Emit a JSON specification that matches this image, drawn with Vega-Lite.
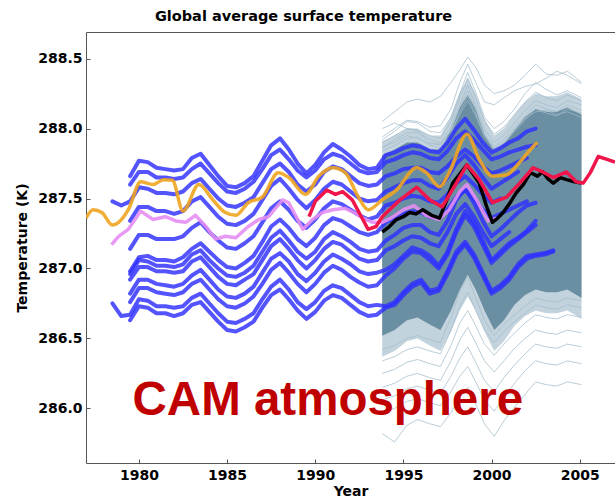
{
  "$schema": "https://vega.github.io/schema/vega-lite/v6.json",
  "width": 529,
  "height": 431,
  "autosize": "none",
  "padding": {"left": 86, "top": 32, "right": 0, "bottom": 36},
  "background": "white",
  "config": {"view": {"stroke": "#555", "strokeWidth": 1}},
  "title": {"text": "Global average surface temperature", "font": "DejaVu Sans", "fontSize": 14.5, "fontWeight": "bold", "color": "#000", "anchor": "middle", "dx": -47, "dy": 16, "baseline": "bottom", "offset": 10},
  "datasets": {
    "ensc": [
      {"x":1993.8,"hi":287.81,"lo":286.52,"hi2":287.91,"lo2":286.37},
      {"x":1994.5,"hi":287.85,"lo":286.56,"hi2":287.95,"lo2":286.41},
      {"x":1995.2,"hi":287.90,"lo":286.63,"hi2":288.00,"lo2":286.48},
      {"x":1995.8,"hi":287.90,"lo":286.65,"hi2":288.00,"lo2":286.50},
      {"x":1996.5,"hi":287.85,"lo":286.60,"hi2":287.95,"lo2":286.45},
      {"x":1997.1,"hi":287.85,"lo":286.56,"hi2":287.95,"lo2":286.41},
      {"x":1997.7,"hi":287.99,"lo":286.70,"hi2":288.09,"lo2":286.55},
      {"x":1998.2,"hi":288.15,"lo":286.85,"hi2":288.26,"lo2":286.70},
      {"x":1998.65,"hi":288.24,"lo":286.955,"hi2":288.36,"lo2":286.80},
      {"x":1999.1,"hi":288.14,"lo":286.85,"hi2":288.25,"lo2":286.70},
      {"x":1999.6,"hi":287.96,"lo":286.70,"hi2":288.07,"lo2":286.55},
      {"x":2000.15,"hi":287.84,"lo":286.56,"hi2":287.95,"lo2":286.41},
      {"x":2000.7,"hi":287.89,"lo":286.63,"hi2":288.00,"lo2":286.48},
      {"x":2001.3,"hi":287.99,"lo":286.74,"hi2":288.10,"lo2":286.59},
      {"x":2001.9,"hi":288.08,"lo":286.81,"hi2":288.19,"lo2":286.66},
      {"x":2002.5,"hi":288.14,"lo":286.85,"hi2":288.25,"lo2":286.70},
      {"x":2003.1,"hi":288.12,"lo":286.83,"hi2":288.23,"lo2":286.68},
      {"x":2003.7,"hi":288.12,"lo":286.83,"hi2":288.23,"lo2":286.68},
      {"x":2004.3,"hi":288.15,"lo":286.85,"hi2":288.26,"lo2":286.70},
      {"x":2005.1,"hi":288.10,"lo":286.79,"hi2":288.21,"lo2":286.64}
    ],
    "ens": [
      {"s":"u1","x":1993.8,"y":288.05},{"s":"u1","x":1994.5,"y":288.12},{"s":"u1","x":1995.2,"y":288.19},{"s":"u1","x":1995.8,"y":288.21},{"s":"u1","x":1996.5,"y":288.19},{"s":"u1","x":1997.1,"y":288.23},{"s":"u1","x":1997.7,"y":288.33},{"s":"u1","x":1998.2,"y":288.42},{"s":"u1","x":1998.65,"y":288.51},{"s":"u1","x":1999.1,"y":288.44},{"s":"u1","x":1999.6,"y":288.31},{"s":"u1","x":2000.15,"y":288.25},{"s":"u1","x":2000.7,"y":288.27},{"s":"u1","x":2001.3,"y":288.31},{"s":"u1","x":2001.9,"y":288.38},{"s":"u1","x":2002.5,"y":288.46},{"s":"u1","x":2003.1,"y":288.39},{"s":"u1","x":2003.7,"y":288.38},{"s":"u1","x":2004.3,"y":288.41},{"s":"u1","x":2005.1,"y":288.33},
      {"s":"u2","x":1993.8,"y":287.94},{"s":"u2","x":1994.5,"y":288.00},{"s":"u2","x":1995.2,"y":288.06},{"s":"u2","x":1995.8,"y":288.05},{"s":"u2","x":1996.5,"y":288.01},{"s":"u2","x":1997.1,"y":288.02},{"s":"u2","x":1997.7,"y":288.14},{"s":"u2","x":1998.2,"y":288.33},{"s":"u2","x":1998.65,"y":288.46},{"s":"u2","x":1999.1,"y":288.33},{"s":"u2","x":1999.6,"y":288.19},{"s":"u2","x":2000.15,"y":288.17},{"s":"u2","x":2000.7,"y":288.22},{"s":"u2","x":2001.3,"y":288.27},{"s":"u2","x":2001.9,"y":288.30},{"s":"u2","x":2002.5,"y":288.32},{"s":"u2","x":2003.1,"y":288.36},{"s":"u2","x":2003.7,"y":288.41},{"s":"u2","x":2004.3,"y":288.38},{"s":"u2","x":2005.1,"y":288.32},
      {"s":"u3","x":1993.8,"y":287.92},{"s":"u3","x":1994.5,"y":287.98},{"s":"u3","x":1995.2,"y":288.05},{"s":"u3","x":1995.8,"y":288.04},{"s":"u3","x":1996.5,"y":287.98},{"s":"u3","x":1997.1,"y":287.97},{"s":"u3","x":1997.7,"y":288.08},{"s":"u3","x":1998.2,"y":288.25},{"s":"u3","x":1998.65,"y":288.40},{"s":"u3","x":1999.1,"y":288.26},{"s":"u3","x":1999.6,"y":288.08},{"s":"u3","x":2000.15,"y":288.00},{"s":"u3","x":2000.7,"y":288.05},{"s":"u3","x":2001.3,"y":288.14},{"s":"u3","x":2001.9,"y":288.25},{"s":"u3","x":2002.5,"y":288.33},{"s":"u3","x":2003.1,"y":288.28},{"s":"u3","x":2003.7,"y":288.24},{"s":"u3","x":2004.3,"y":288.27},{"s":"u3","x":2005.1,"y":288.22},
      {"s":"u4","x":1993.8,"y":288.00},{"s":"u4","x":1994.5,"y":288.04},{"s":"u4","x":1995.2,"y":288.00},{"s":"u4","x":1995.8,"y":287.99},{"s":"u4","x":1996.5,"y":287.95},{"s":"u4","x":1997.1,"y":287.93},{"s":"u4","x":1997.7,"y":288.05},{"s":"u4","x":1998.2,"y":288.22},{"s":"u4","x":1998.65,"y":288.36},{"s":"u4","x":1999.1,"y":288.22},{"s":"u4","x":1999.6,"y":288.05},{"s":"u4","x":2000.15,"y":287.96},{"s":"u4","x":2000.7,"y":288.01},{"s":"u4","x":2001.3,"y":288.10},{"s":"u4","x":2001.9,"y":288.19},{"s":"u4","x":2002.5,"y":288.26},{"s":"u4","x":2003.1,"y":288.22},{"s":"u4","x":2003.7,"y":288.20},{"s":"u4","x":2004.3,"y":288.24},{"s":"u4","x":2005.1,"y":288.20},
      {"s":"u5","x":1993.8,"y":287.90},{"s":"u5","x":1994.5,"y":287.95},{"s":"u5","x":1995.2,"y":288.00},{"s":"u5","x":1995.8,"y":287.98},{"s":"u5","x":1996.5,"y":287.92},{"s":"u5","x":1997.1,"y":287.90},{"s":"u5","x":1997.7,"y":288.01},{"s":"u5","x":1998.2,"y":288.17},{"s":"u5","x":1998.65,"y":288.31},{"s":"u5","x":1999.1,"y":288.17},{"s":"u5","x":1999.6,"y":287.99},{"s":"u5","x":2000.15,"y":287.90},{"s":"u5","x":2000.7,"y":287.95},{"s":"u5","x":2001.3,"y":288.04},{"s":"u5","x":2001.9,"y":288.13},{"s":"u5","x":2002.5,"y":288.20},{"s":"u5","x":2003.1,"y":288.17},{"s":"u5","x":2003.7,"y":288.15},{"s":"u5","x":2004.3,"y":288.20},{"s":"u5","x":2005.1,"y":288.17},
      {"s":"u6","x":1993.8,"y":287.86},{"s":"u6","x":1994.5,"y":287.92},{"s":"u6","x":1995.2,"y":287.97},{"s":"u6","x":1995.8,"y":287.97},{"s":"u6","x":1996.5,"y":287.90},{"s":"u6","x":1997.1,"y":287.88},{"s":"u6","x":1997.7,"y":287.99},{"s":"u6","x":1998.2,"y":288.15},{"s":"u6","x":1998.65,"y":288.27},{"s":"u6","x":1999.1,"y":288.14},{"s":"u6","x":1999.6,"y":287.96},{"s":"u6","x":2000.15,"y":287.87},{"s":"u6","x":2000.7,"y":287.92},{"s":"u6","x":2001.3,"y":288.01},{"s":"u6","x":2001.9,"y":288.09},{"s":"u6","x":2002.5,"y":288.17},{"s":"u6","x":2003.1,"y":288.14},{"s":"u6","x":2003.7,"y":288.12},{"s":"u6","x":2004.3,"y":288.17},{"s":"u6","x":2005.1,"y":288.13},
      {"s":"u7","x":1993.8,"y":287.84},{"s":"u7","x":1994.5,"y":287.88},{"s":"u7","x":1995.2,"y":287.93},{"s":"u7","x":1995.8,"y":287.94},{"s":"u7","x":1996.5,"y":287.88},{"s":"u7","x":1997.1,"y":287.86},{"s":"u7","x":1997.7,"y":287.96},{"s":"u7","x":1998.2,"y":288.12},{"s":"u7","x":1998.65,"y":288.23},{"s":"u7","x":1999.1,"y":288.11},{"s":"u7","x":1999.6,"y":287.94},{"s":"u7","x":2000.15,"y":287.85},{"s":"u7","x":2000.7,"y":287.89},{"s":"u7","x":2001.3,"y":287.98},{"s":"u7","x":2001.9,"y":288.06},{"s":"u7","x":2002.5,"y":288.14},{"s":"u7","x":2003.1,"y":288.11},{"s":"u7","x":2003.7,"y":288.09},{"s":"u7","x":2004.3,"y":288.14},{"s":"u7","x":2005.1,"y":288.11},
      {"s":"u8","x":1993.8,"y":287.87},{"s":"u8","x":1994.5,"y":287.90},{"s":"u8","x":1995.2,"y":287.95},{"s":"u8","x":1995.8,"y":287.93},{"s":"u8","x":1996.5,"y":287.89},{"s":"u8","x":1997.1,"y":287.89},{"s":"u8","x":1997.7,"y":287.98},{"s":"u8","x":1998.2,"y":288.10},{"s":"u8","x":1998.65,"y":288.20},{"s":"u8","x":1999.1,"y":288.09},{"s":"u8","x":1999.6,"y":287.95},{"s":"u8","x":2000.15,"y":287.86},{"s":"u8","x":2000.7,"y":287.90},{"s":"u8","x":2001.3,"y":287.99},{"s":"u8","x":2001.9,"y":288.07},{"s":"u8","x":2002.5,"y":288.12},{"s":"u8","x":2003.1,"y":288.13},{"s":"u8","x":2003.7,"y":288.10},{"s":"u8","x":2004.3,"y":288.12},{"s":"u8","x":2005.1,"y":288.08},
      {"s":"l1","x":1993.8,"y":285.82},{"s":"l1","x":1994.5,"y":285.76},{"s":"l1","x":1995.2,"y":285.88},{"s":"l1","x":1995.8,"y":285.92},{"s":"l1","x":1996.5,"y":285.89},{"s":"l1","x":1997.1,"y":285.87},{"s":"l1","x":1997.7,"y":285.97},{"s":"l1","x":1998.2,"y":286.08},{"s":"l1","x":1998.65,"y":286.15},{"s":"l1","x":1999.1,"y":286.03},{"s":"l1","x":1999.6,"y":285.89},{"s":"l1","x":2000.15,"y":285.80},{"s":"l1","x":2000.7,"y":285.91},{"s":"l1","x":2001.3,"y":286.01},{"s":"l1","x":2001.9,"y":286.10},{"s":"l1","x":2002.5,"y":286.19},{"s":"l1","x":2003.1,"y":286.17},{"s":"l1","x":2003.7,"y":286.16},{"s":"l1","x":2004.3,"y":286.19},{"s":"l1","x":2005.1,"y":286.17},
      {"s":"l2","x":1993.8,"y":285.97},{"s":"l2","x":1994.5,"y":286.00},{"s":"l2","x":1995.2,"y":286.05},{"s":"l2","x":1995.8,"y":286.07},{"s":"l2","x":1996.5,"y":286.04},{"s":"l2","x":1997.1,"y":286.02},{"s":"l2","x":1997.7,"y":286.12},{"s":"l2","x":1998.2,"y":286.23},{"s":"l2","x":1998.65,"y":286.30},{"s":"l2","x":1999.1,"y":286.19},{"s":"l2","x":1999.6,"y":286.06},{"s":"l2","x":2000.15,"y":285.98},{"s":"l2","x":2000.7,"y":286.08},{"s":"l2","x":2001.3,"y":286.18},{"s":"l2","x":2001.9,"y":286.27},{"s":"l2","x":2002.5,"y":286.34},{"s":"l2","x":2003.1,"y":286.32},{"s":"l2","x":2003.7,"y":286.31},{"s":"l2","x":2004.3,"y":286.34},{"s":"l2","x":2005.1,"y":286.32},
      {"s":"l3","x":1993.8,"y":286.06},{"s":"l3","x":1994.5,"y":286.09},{"s":"l3","x":1995.2,"y":286.14},{"s":"l3","x":1995.8,"y":286.16},{"s":"l3","x":1996.5,"y":286.13},{"s":"l3","x":1997.1,"y":286.11},{"s":"l3","x":1997.7,"y":286.23},{"s":"l3","x":1998.2,"y":286.36},{"s":"l3","x":1998.65,"y":286.44},{"s":"l3","x":1999.1,"y":286.33},{"s":"l3","x":1999.6,"y":286.20},{"s":"l3","x":2000.15,"y":286.12},{"s":"l3","x":2000.7,"y":286.22},{"s":"l3","x":2001.3,"y":286.31},{"s":"l3","x":2001.9,"y":286.39},{"s":"l3","x":2002.5,"y":286.46},{"s":"l3","x":2003.1,"y":286.44},{"s":"l3","x":2003.7,"y":286.43},{"s":"l3","x":2004.3,"y":286.46},{"s":"l3","x":2005.1,"y":286.44},
      {"s":"l4","x":1993.8,"y":286.15},{"s":"l4","x":1994.5,"y":286.18},{"s":"l4","x":1995.2,"y":286.23},{"s":"l4","x":1995.8,"y":286.25},{"s":"l4","x":1996.5,"y":286.22},{"s":"l4","x":1997.1,"y":286.20},{"s":"l4","x":1997.7,"y":286.34},{"s":"l4","x":1998.2,"y":286.49},{"s":"l4","x":1998.65,"y":286.58},{"s":"l4","x":1999.1,"y":286.47},{"s":"l4","x":1999.6,"y":286.34},{"s":"l4","x":2000.15,"y":286.26},{"s":"l4","x":2000.7,"y":286.34},{"s":"l4","x":2001.3,"y":286.43},{"s":"l4","x":2001.9,"y":286.50},{"s":"l4","x":2002.5,"y":286.56},{"s":"l4","x":2003.1,"y":286.54},{"s":"l4","x":2003.7,"y":286.53},{"s":"l4","x":2004.3,"y":286.56},{"s":"l4","x":2005.1,"y":286.54},
      {"s":"l5","x":1993.8,"y":286.25},{"s":"l5","x":1994.5,"y":286.28},{"s":"l5","x":1995.2,"y":286.33},{"s":"l5","x":1995.8,"y":286.35},{"s":"l5","x":1996.5,"y":286.32},{"s":"l5","x":1997.1,"y":286.30},{"s":"l5","x":1997.7,"y":286.45},{"s":"l5","x":1998.2,"y":286.61},{"s":"l5","x":1998.65,"y":286.70},{"s":"l5","x":1999.1,"y":286.59},{"s":"l5","x":1999.6,"y":286.46},{"s":"l5","x":2000.15,"y":286.38},{"s":"l5","x":2000.7,"y":286.46},{"s":"l5","x":2001.3,"y":286.54},{"s":"l5","x":2001.9,"y":286.61},{"s":"l5","x":2002.5,"y":286.67},{"s":"l5","x":2003.1,"y":286.65},{"s":"l5","x":2003.7,"y":286.64},{"s":"l5","x":2004.3,"y":286.67},{"s":"l5","x":2005.1,"y":286.65},
      {"s":"l6","x":1993.8,"y":286.34},{"s":"l6","x":1994.5,"y":286.37},{"s":"l6","x":1995.2,"y":286.42},{"s":"l6","x":1995.8,"y":286.44},{"s":"l6","x":1996.5,"y":286.41},{"s":"l6","x":1997.1,"y":286.39},{"s":"l6","x":1997.7,"y":286.56},{"s":"l6","x":1998.2,"y":286.73},{"s":"l6","x":1998.65,"y":286.83},{"s":"l6","x":1999.1,"y":286.70},{"s":"l6","x":1999.6,"y":286.56},{"s":"l6","x":2000.15,"y":286.47},{"s":"l6","x":2000.7,"y":286.55},{"s":"l6","x":2001.3,"y":286.62},{"s":"l6","x":2001.9,"y":286.68},{"s":"l6","x":2002.5,"y":286.74},{"s":"l6","x":2003.1,"y":286.72},{"s":"l6","x":2003.7,"y":286.71},{"s":"l6","x":2004.3,"y":286.74},{"s":"l6","x":2005.1,"y":286.72},
      {"s":"l7","x":1993.8,"y":286.42},{"s":"l7","x":1994.5,"y":286.45},{"s":"l7","x":1995.2,"y":286.50},{"s":"l7","x":1995.8,"y":286.52},{"s":"l7","x":1996.5,"y":286.49},{"s":"l7","x":1997.1,"y":286.47},{"s":"l7","x":1997.7,"y":286.65},{"s":"l7","x":1998.2,"y":286.84},{"s":"l7","x":1998.65,"y":286.94},{"s":"l7","x":1999.1,"y":286.79},{"s":"l7","x":1999.6,"y":286.63},{"s":"l7","x":2000.15,"y":286.52},{"s":"l7","x":2000.7,"y":286.60},{"s":"l7","x":2001.3,"y":286.67},{"s":"l7","x":2001.9,"y":286.73},{"s":"l7","x":2002.5,"y":286.79},{"s":"l7","x":2003.1,"y":286.77},{"s":"l7","x":2003.7,"y":286.76},{"s":"l7","x":2004.3,"y":286.79},{"s":"l7","x":2005.1,"y":286.77}
    ],
    "blue": [
      {"s":"b1","x":1979.5,"y":287.66},{"s":"b1","x":1980,"y":287.77},{"s":"b1","x":1980.5,"y":287.76},{"s":"b1","x":1981,"y":287.72},{"s":"b1","x":1981.5,"y":287.71},{"s":"b1","x":1982,"y":287.70},{"s":"b1","x":1982.5,"y":287.71},{"s":"b1","x":1983,"y":287.79},{"s":"b1","x":1983.5,"y":287.82},{"s":"b1","x":1984,"y":287.74},{"s":"b1","x":1984.5,"y":287.66},{"s":"b1","x":1985,"y":287.59},{"s":"b1","x":1985.5,"y":287.58},{"s":"b1","x":1986,"y":287.61},{"s":"b1","x":1986.5,"y":287.66},{"s":"b1","x":1987,"y":287.77},{"s":"b1","x":1987.5,"y":287.88},{"s":"b1","x":1988,"y":287.93},{"s":"b1","x":1988.5,"y":287.85},{"s":"b1","x":1989,"y":287.75},{"s":"b1","x":1989.5,"y":287.68},{"s":"b1","x":1990,"y":287.74},{"s":"b1","x":1990.5,"y":287.83},{"s":"b1","x":1991,"y":287.89},{"s":"b1","x":1991.5,"y":287.85},{"s":"b1","x":1992,"y":287.80},{"s":"b1","x":1992.5,"y":287.74},{"s":"b1","x":1993,"y":287.71},{"s":"b1","x":1993.5,"y":287.72},
      {"s":"b1","x":1994,"y":287.81},{"s":"b1","x":1994.5,"y":287.83},{"s":"b1","x":1995,"y":287.86},{"s":"b1","x":1995.5,"y":287.88},{"s":"b1","x":1996,"y":287.87},{"s":"b1","x":1996.5,"y":287.84},{"s":"b1","x":1997,"y":287.83},{"s":"b1","x":1997.5,"y":287.90},{"s":"b1","x":1998,"y":288.00},{"s":"b1","x":1998.5,"y":288.07},{"s":"b1","x":1999,"y":287.99},{"s":"b1","x":1999.5,"y":287.90},{"s":"b1","x":2000,"y":287.83},{"s":"b1","x":2000.5,"y":287.86},{"s":"b1","x":2001,"y":287.90},{"s":"b1","x":2001.5,"y":287.93},{"s":"b1","x":2002,"y":287.98},{"s":"b1","x":2002.5,"y":288.00},
      {"s":"b2","x":1979.5,"y":287.60},{"s":"b2","x":1980,"y":287.69},{"s":"b2","x":1980.5,"y":287.69},{"s":"b2","x":1981,"y":287.65},{"s":"b2","x":1981.5,"y":287.65},{"s":"b2","x":1982,"y":287.64},{"s":"b2","x":1982.5,"y":287.65},{"s":"b2","x":1983,"y":287.71},{"s":"b2","x":1983.5,"y":287.75},{"s":"b2","x":1984,"y":287.68},{"s":"b2","x":1984.5,"y":287.61},{"s":"b2","x":1985,"y":287.55},{"s":"b2","x":1985.5,"y":287.54},{"s":"b2","x":1986,"y":287.57},{"s":"b2","x":1986.5,"y":287.62},{"s":"b2","x":1987,"y":287.71},{"s":"b2","x":1987.5,"y":287.81},{"s":"b2","x":1988,"y":287.85},{"s":"b2","x":1988.5,"y":287.78},{"s":"b2","x":1989,"y":287.70},{"s":"b2","x":1989.5,"y":287.65},{"s":"b2","x":1990,"y":287.70},{"s":"b2","x":1990.5,"y":287.78},{"s":"b2","x":1991,"y":287.82},{"s":"b2","x":1991.5,"y":287.80},{"s":"b2","x":1992,"y":287.75},{"s":"b2","x":1992.5,"y":287.70},{"s":"b2","x":1993,"y":287.68},{"s":"b2","x":1993.5,"y":287.69},
      {"s":"b2","x":1994,"y":287.76},{"s":"b2","x":1994.5,"y":287.78},{"s":"b2","x":1995,"y":287.81},{"s":"b2","x":1995.5,"y":287.83},{"s":"b2","x":1996,"y":287.82},{"s":"b2","x":1996.5,"y":287.79},{"s":"b2","x":1997,"y":287.78},{"s":"b2","x":1997.5,"y":287.84},{"s":"b2","x":1998,"y":287.93},{"s":"b2","x":1998.5,"y":287.98},{"s":"b2","x":1999,"y":287.92},{"s":"b2","x":1999.5,"y":287.85},{"s":"b2","x":2000,"y":287.78},{"s":"b2","x":2000.5,"y":287.80},{"s":"b2","x":2001,"y":287.83},{"s":"b2","x":2001.5,"y":287.85},{"s":"b2","x":2002,"y":287.87},{"s":"b2","x":2002.5,"y":287.88},
      {"s":"b3","x":1978.5,"y":287.48},{"s":"b3","x":1979,"y":287.45},{"s":"b3","x":1979.5,"y":287.48},{"s":"b3","x":1980,"y":287.58},{"s":"b3","x":1980.5,"y":287.57},{"s":"b3","x":1981,"y":287.54},{"s":"b3","x":1981.5,"y":287.54},{"s":"b3","x":1982,"y":287.53},{"s":"b3","x":1982.5,"y":287.55},{"s":"b3","x":1983,"y":287.61},{"s":"b3","x":1983.5,"y":287.64},{"s":"b3","x":1984,"y":287.57},{"s":"b3","x":1984.5,"y":287.50},{"s":"b3","x":1985,"y":287.45},{"s":"b3","x":1985.5,"y":287.44},{"s":"b3","x":1986,"y":287.47},{"s":"b3","x":1986.5,"y":287.51},{"s":"b3","x":1987,"y":287.61},{"s":"b3","x":1987.5,"y":287.71},{"s":"b3","x":1988,"y":287.75},{"s":"b3","x":1988.5,"y":287.69},{"s":"b3","x":1989,"y":287.60},{"s":"b3","x":1989.5,"y":287.55},{"s":"b3","x":1990,"y":287.60},{"s":"b3","x":1990.5,"y":287.69},{"s":"b3","x":1991,"y":287.73},{"s":"b3","x":1991.5,"y":287.71},{"s":"b3","x":1992,"y":287.66},{"s":"b3","x":1992.5,"y":287.61},{"s":"b3","x":1993,"y":287.59},{"s":"b3","x":1993.5,"y":287.60},
      {"s":"b3","x":1994,"y":287.66},{"s":"b3","x":1994.5,"y":287.68},{"s":"b3","x":1995,"y":287.71},{"s":"b3","x":1995.5,"y":287.72},{"s":"b3","x":1996,"y":287.72},{"s":"b3","x":1996.5,"y":287.69},{"s":"b3","x":1997,"y":287.68},{"s":"b3","x":1997.5,"y":287.73},{"s":"b3","x":1998,"y":287.80},{"s":"b3","x":1998.5,"y":287.85},{"s":"b3","x":1999,"y":287.80},{"s":"b3","x":1999.5,"y":287.73},{"s":"b3","x":2000,"y":287.68},{"s":"b3","x":2000.5,"y":287.70},{"s":"b3","x":2001,"y":287.73},{"s":"b3","x":2001.5,"y":287.76},{"s":"b3","x":2002,"y":287.79},
      {"s":"b4","x":1979.5,"y":287.34},{"s":"b4","x":1980,"y":287.44},{"s":"b4","x":1980.5,"y":287.44},{"s":"b4","x":1981,"y":287.41},{"s":"b4","x":1981.5,"y":287.41},{"s":"b4","x":1982,"y":287.39},{"s":"b4","x":1982.5,"y":287.41},{"s":"b4","x":1983,"y":287.48},{"s":"b4","x":1983.5,"y":287.51},{"s":"b4","x":1984,"y":287.44},{"s":"b4","x":1984.5,"y":287.37},{"s":"b4","x":1985,"y":287.32},{"s":"b4","x":1985.5,"y":287.31},{"s":"b4","x":1986,"y":287.34},{"s":"b4","x":1986.5,"y":287.39},{"s":"b4","x":1987,"y":287.49},{"s":"b4","x":1987.5,"y":287.59},{"s":"b4","x":1988,"y":287.64},{"s":"b4","x":1988.5,"y":287.57},{"s":"b4","x":1989,"y":287.49},{"s":"b4","x":1989.5,"y":287.43},{"s":"b4","x":1990,"y":287.49},{"s":"b4","x":1990.5,"y":287.57},{"s":"b4","x":1991,"y":287.62},{"s":"b4","x":1991.5,"y":287.60},{"s":"b4","x":1992,"y":287.55},{"s":"b4","x":1992.5,"y":287.50},{"s":"b4","x":1993,"y":287.48},{"s":"b4","x":1993.5,"y":287.49},
      {"s":"b4","x":1994,"y":287.55},{"s":"b4","x":1994.5,"y":287.58},{"s":"b4","x":1995,"y":287.61},{"s":"b4","x":1995.5,"y":287.63},{"s":"b4","x":1996,"y":287.63},{"s":"b4","x":1996.5,"y":287.59},{"s":"b4","x":1997,"y":287.57},{"s":"b4","x":1997.5,"y":287.65},{"s":"b4","x":1998,"y":287.75},{"s":"b4","x":1998.5,"y":287.81},{"s":"b4","x":1999,"y":287.74},{"s":"b4","x":1999.5,"y":287.65},{"s":"b4","x":2000,"y":287.57},{"s":"b4","x":2000.5,"y":287.61},{"s":"b4","x":2001,"y":287.65},{"s":"b4","x":2001.5,"y":287.69},
      {"s":"b5","x":1979.5,"y":287.14},{"s":"b5","x":1980,"y":287.24},{"s":"b5","x":1980.5,"y":287.24},{"s":"b5","x":1981,"y":287.21},{"s":"b5","x":1981.5,"y":287.21},{"s":"b5","x":1982,"y":287.21},{"s":"b5","x":1982.5,"y":287.23},{"s":"b5","x":1983,"y":287.29},{"s":"b5","x":1983.5,"y":287.33},{"s":"b5","x":1984,"y":287.26},{"s":"b5","x":1984.5,"y":287.20},{"s":"b5","x":1985,"y":287.15},{"s":"b5","x":1985.5,"y":287.14},{"s":"b5","x":1986,"y":287.18},{"s":"b5","x":1986.5,"y":287.23},{"s":"b5","x":1987,"y":287.33},{"s":"b5","x":1987.5,"y":287.43},{"s":"b5","x":1988,"y":287.48},{"s":"b5","x":1988.5,"y":287.42},{"s":"b5","x":1989,"y":287.34},{"s":"b5","x":1989.5,"y":287.29},{"s":"b5","x":1990,"y":287.35},{"s":"b5","x":1990.5,"y":287.43},{"s":"b5","x":1991,"y":287.48},{"s":"b5","x":1991.5,"y":287.46},{"s":"b5","x":1992,"y":287.42},{"s":"b5","x":1992.5,"y":287.38},{"s":"b5","x":1993,"y":287.35},{"s":"b5","x":1993.5,"y":287.37},
      {"s":"b5","x":1994,"y":287.45},{"s":"b5","x":1994.5,"y":287.47},{"s":"b5","x":1995,"y":287.50},{"s":"b5","x":1995.5,"y":287.52},{"s":"b5","x":1996,"y":287.51},{"s":"b5","x":1996.5,"y":287.48},{"s":"b5","x":1997,"y":287.47},{"s":"b5","x":1997.5,"y":287.53},{"s":"b5","x":1998,"y":287.61},{"s":"b5","x":1998.5,"y":287.66},{"s":"b5","x":1999,"y":287.60},{"s":"b5","x":1999.5,"y":287.53},{"s":"b5","x":2000,"y":287.47},{"s":"b5","x":2000.5,"y":287.50},
      {"s":"b6","x":1979.5,"y":286.98},{"s":"b6","x":1980,"y":287.08},{"s":"b6","x":1980.5,"y":287.09},{"s":"b6","x":1981,"y":287.06},{"s":"b6","x":1981.5,"y":287.06},{"s":"b6","x":1982,"y":287.05},{"s":"b6","x":1982.5,"y":287.08},{"s":"b6","x":1983,"y":287.14},{"s":"b6","x":1983.5,"y":287.18},{"s":"b6","x":1984,"y":287.12},{"s":"b6","x":1984.5,"y":287.06},{"s":"b6","x":1985,"y":287.01},{"s":"b6","x":1985.5,"y":287.00},{"s":"b6","x":1986,"y":287.04},{"s":"b6","x":1986.5,"y":287.09},{"s":"b6","x":1987,"y":287.19},{"s":"b6","x":1987.5,"y":287.30},{"s":"b6","x":1988,"y":287.35},{"s":"b6","x":1988.5,"y":287.29},{"s":"b6","x":1989,"y":287.21},{"s":"b6","x":1989.5,"y":287.16},{"s":"b6","x":1990,"y":287.22},{"s":"b6","x":1990.5,"y":287.31},{"s":"b6","x":1991,"y":287.36},{"s":"b6","x":1991.5,"y":287.34},{"s":"b6","x":1992,"y":287.30},{"s":"b6","x":1992.5,"y":287.26},{"s":"b6","x":1993,"y":287.24},{"s":"b6","x":1993.5,"y":287.26},
      {"s":"b6","x":1994,"y":287.33},{"s":"b6","x":1994.5,"y":287.36},{"s":"b6","x":1995,"y":287.39},{"s":"b6","x":1995.5,"y":287.41},{"s":"b6","x":1996,"y":287.40},{"s":"b6","x":1996.5,"y":287.37},{"s":"b6","x":1997,"y":287.36},{"s":"b6","x":1997.5,"y":287.42},{"s":"b6","x":1998,"y":287.51},{"s":"b6","x":1998.5,"y":287.56},{"s":"b6","x":1999,"y":287.50},{"s":"b6","x":1999.5,"y":287.42},{"s":"b6","x":2000,"y":287.36},{"s":"b6","x":2000.5,"y":287.39},{"s":"b6","x":2001,"y":287.42},{"s":"b6","x":2001.5,"y":287.45},{"s":"b6","x":2002,"y":287.48},
      {"s":"b7","x":1979.5,"y":286.96},{"s":"b7","x":1980,"y":287.06},{"s":"b7","x":1980.5,"y":287.05},{"s":"b7","x":1981,"y":287.02},{"s":"b7","x":1981.5,"y":287.02},{"s":"b7","x":1982,"y":287.01},{"s":"b7","x":1982.5,"y":287.03},{"s":"b7","x":1983,"y":287.10},{"s":"b7","x":1983.5,"y":287.13},{"s":"b7","x":1984,"y":287.06},{"s":"b7","x":1984.5,"y":287.00},{"s":"b7","x":1985,"y":286.95},{"s":"b7","x":1985.5,"y":286.94},{"s":"b7","x":1986,"y":286.97},{"s":"b7","x":1986.5,"y":287.02},{"s":"b7","x":1987,"y":287.12},{"s":"b7","x":1987.5,"y":287.22},{"s":"b7","x":1988,"y":287.27},{"s":"b7","x":1988.5,"y":287.20},{"s":"b7","x":1989,"y":287.12},{"s":"b7","x":1989.5,"y":287.07},{"s":"b7","x":1990,"y":287.12},{"s":"b7","x":1990.5,"y":287.21},{"s":"b7","x":1991,"y":287.26},{"s":"b7","x":1991.5,"y":287.23},{"s":"b7","x":1992,"y":287.19},{"s":"b7","x":1992.5,"y":287.14},{"s":"b7","x":1993,"y":287.12},{"s":"b7","x":1993.5,"y":287.13},
      {"s":"b7","x":1994,"y":287.20},{"s":"b7","x":1994.5,"y":287.24},{"s":"b7","x":1995,"y":287.29},{"s":"b7","x":1995.5,"y":287.31},{"s":"b7","x":1996,"y":287.31},{"s":"b7","x":1996.5,"y":287.26},{"s":"b7","x":1997,"y":287.24},{"s":"b7","x":1997.5,"y":287.34},{"s":"b7","x":1998,"y":287.49},{"s":"b7","x":1998.5,"y":287.57},{"s":"b7","x":1999,"y":287.47},{"s":"b7","x":1999.5,"y":287.34},{"s":"b7","x":2000,"y":287.23},{"s":"b7","x":2000.5,"y":287.28},{"s":"b7","x":2001,"y":287.34},{"s":"b7","x":2001.5,"y":287.40},{"s":"b7","x":2002,"y":287.45},{"s":"b7","x":2002.5,"y":287.47},
      {"s":"b8","x":1979.5,"y":286.92},{"s":"b8","x":1980,"y":287.01},{"s":"b8","x":1980.5,"y":287.01},{"s":"b8","x":1981,"y":286.98},{"s":"b8","x":1981.5,"y":286.98},{"s":"b8","x":1982,"y":286.97},{"s":"b8","x":1982.5,"y":286.98},{"s":"b8","x":1983,"y":287.05},{"s":"b8","x":1983.5,"y":287.08},{"s":"b8","x":1984,"y":287.01},{"s":"b8","x":1984.5,"y":286.94},{"s":"b8","x":1985,"y":286.89},{"s":"b8","x":1985.5,"y":286.88},{"s":"b8","x":1986,"y":286.92},{"s":"b8","x":1986.5,"y":286.96},{"s":"b8","x":1987,"y":287.06},{"s":"b8","x":1987.5,"y":287.16},{"s":"b8","x":1988,"y":287.21},{"s":"b8","x":1988.5,"y":287.14},{"s":"b8","x":1989,"y":287.06},{"s":"b8","x":1989.5,"y":287.00},{"s":"b8","x":1990,"y":287.06},{"s":"b8","x":1990.5,"y":287.14},{"s":"b8","x":1991,"y":287.19},{"s":"b8","x":1991.5,"y":287.17},{"s":"b8","x":1992,"y":287.12},{"s":"b8","x":1992.5,"y":287.07},{"s":"b8","x":1993,"y":287.05},{"s":"b8","x":1993.5,"y":287.06},
      {"s":"b8","x":1994,"y":287.13},{"s":"b8","x":1994.5,"y":287.16},{"s":"b8","x":1995,"y":287.20},{"s":"b8","x":1995.5,"y":287.23},{"s":"b8","x":1996,"y":287.22},{"s":"b8","x":1996.5,"y":287.18},{"s":"b8","x":1997,"y":287.16},{"s":"b8","x":1997.5,"y":287.26},{"s":"b8","x":1998,"y":287.39},{"s":"b8","x":1998.5,"y":287.46},{"s":"b8","x":1999,"y":287.37},{"s":"b8","x":1999.5,"y":287.26},{"s":"b8","x":2000,"y":287.16},{"s":"b8","x":2000.5,"y":287.21},{"s":"b8","x":2001,"y":287.26},
      {"s":"b9","x":1979.5,"y":286.82},{"s":"b9","x":1980,"y":286.92},{"s":"b9","x":1980.5,"y":286.92},{"s":"b9","x":1981,"y":286.89},{"s":"b9","x":1981.5,"y":286.88},{"s":"b9","x":1982,"y":286.87},{"s":"b9","x":1982.5,"y":286.89},{"s":"b9","x":1983,"y":286.95},{"s":"b9","x":1983.5,"y":286.99},{"s":"b9","x":1984,"y":286.92},{"s":"b9","x":1984.5,"y":286.85},{"s":"b9","x":1985,"y":286.80},{"s":"b9","x":1985.5,"y":286.79},{"s":"b9","x":1986,"y":286.82},{"s":"b9","x":1986.5,"y":286.87},{"s":"b9","x":1987,"y":286.97},{"s":"b9","x":1987.5,"y":287.07},{"s":"b9","x":1988,"y":287.11},{"s":"b9","x":1988.5,"y":287.05},{"s":"b9","x":1989,"y":286.96},{"s":"b9","x":1989.5,"y":286.91},{"s":"b9","x":1990,"y":286.97},{"s":"b9","x":1990.5,"y":287.05},{"s":"b9","x":1991,"y":287.10},{"s":"b9","x":1991.5,"y":287.07},{"s":"b9","x":1992,"y":287.03},{"s":"b9","x":1992.5,"y":286.98},{"s":"b9","x":1993,"y":286.96},{"s":"b9","x":1993.5,"y":286.97},
      {"s":"b9","x":1994,"y":286.99},{"s":"b9","x":1994.5,"y":287.03},{"s":"b9","x":1995,"y":287.09},{"s":"b9","x":1995.5,"y":287.15},{"s":"b9","x":1996,"y":287.13},{"s":"b9","x":1996.5,"y":287.09},{"s":"b9","x":1997,"y":287.02},{"s":"b9","x":1997.5,"y":287.12},{"s":"b9","x":1998,"y":287.28},{"s":"b9","x":1998.5,"y":287.41},{"s":"b9","x":1999,"y":287.33},{"s":"b9","x":1999.5,"y":287.20},{"s":"b9","x":2000,"y":287.06},{"s":"b9","x":2000.5,"y":287.12},{"s":"b9","x":2001,"y":287.18},{"s":"b9","x":2001.5,"y":287.22},{"s":"b9","x":2002,"y":287.27},{"s":"b9","x":2002.5,"y":287.34},
      {"s":"b10","x":1979.5,"y":286.76},{"s":"b10","x":1980,"y":286.86},{"s":"b10","x":1980.5,"y":286.86},{"s":"b10","x":1981,"y":286.83},{"s":"b10","x":1981.5,"y":286.82},{"s":"b10","x":1982,"y":286.81},{"s":"b10","x":1982.5,"y":286.83},{"s":"b10","x":1983,"y":286.89},{"s":"b10","x":1983.5,"y":286.92},{"s":"b10","x":1984,"y":286.85},{"s":"b10","x":1984.5,"y":286.78},{"s":"b10","x":1985,"y":286.73},{"s":"b10","x":1985.5,"y":286.72},{"s":"b10","x":1986,"y":286.75},{"s":"b10","x":1986.5,"y":286.80},{"s":"b10","x":1987,"y":286.89},{"s":"b10","x":1987.5,"y":286.99},{"s":"b10","x":1988,"y":287.04},{"s":"b10","x":1988.5,"y":286.97},{"s":"b10","x":1989,"y":286.89},{"s":"b10","x":1989.5,"y":286.83},{"s":"b10","x":1990,"y":286.89},{"s":"b10","x":1990.5,"y":286.97},{"s":"b10","x":1991,"y":287.02},{"s":"b10","x":1991.5,"y":286.99},{"s":"b10","x":1992,"y":286.94},{"s":"b10","x":1992.5,"y":286.90},{"s":"b10","x":1993,"y":286.87},{"s":"b10","x":1993.5,"y":286.88},
      {"s":"b10","x":1994,"y":286.95},{"s":"b10","x":1994.5,"y":287.00},{"s":"b10","x":1995,"y":287.07},{"s":"b10","x":1995.5,"y":287.12},{"s":"b10","x":1996,"y":287.11},{"s":"b10","x":1996.5,"y":287.06},{"s":"b10","x":1997,"y":287.00},{"s":"b10","x":1997.5,"y":287.10},{"s":"b10","x":1998,"y":287.26},{"s":"b10","x":1998.5,"y":287.38},{"s":"b10","x":1999,"y":287.30},{"s":"b10","x":1999.5,"y":287.17},{"s":"b10","x":2000,"y":287.04},{"s":"b10","x":2000.5,"y":287.10},{"s":"b10","x":2001,"y":287.16},{"s":"b10","x":2001.5,"y":287.21},{"s":"b10","x":2002,"y":287.26},{"s":"b10","x":2002.5,"y":287.31},
      {"s":"b11","x":1978.5,"y":286.75},{"s":"b11","x":1979,"y":286.66},{"s":"b11","x":1979.5,"y":286.67},{"s":"b11","x":1980,"y":286.78},{"s":"b11","x":1980.5,"y":286.77},{"s":"b11","x":1981,"y":286.73},{"s":"b11","x":1981.5,"y":286.73},{"s":"b11","x":1982,"y":286.72},{"s":"b11","x":1982.5,"y":286.73},{"s":"b11","x":1983,"y":286.79},{"s":"b11","x":1983.5,"y":286.82},{"s":"b11","x":1984,"y":286.75},{"s":"b11","x":1984.5,"y":286.68},{"s":"b11","x":1985,"y":286.62},{"s":"b11","x":1985.5,"y":286.61},{"s":"b11","x":1986,"y":286.64},{"s":"b11","x":1986.5,"y":286.68},{"s":"b11","x":1987,"y":286.78},{"s":"b11","x":1987.5,"y":286.87},{"s":"b11","x":1988,"y":286.92},{"s":"b11","x":1988.5,"y":286.85},{"s":"b11","x":1989,"y":286.76},{"s":"b11","x":1989.5,"y":286.71},{"s":"b11","x":1990,"y":286.76},{"s":"b11","x":1990.5,"y":286.84},{"s":"b11","x":1991,"y":286.88},{"s":"b11","x":1991.5,"y":286.86},{"s":"b11","x":1992,"y":286.81},{"s":"b11","x":1992.5,"y":286.76},{"s":"b11","x":1993,"y":286.73},{"s":"b11","x":1993.5,"y":286.74},
      {"s":"b11","x":1994,"y":286.73},{"s":"b11","x":1994.5,"y":286.76},{"s":"b11","x":1995,"y":286.83},{"s":"b11","x":1995.5,"y":286.89},{"s":"b11","x":1996,"y":286.92},{"s":"b11","x":1996.5,"y":286.84},{"s":"b11","x":1997,"y":286.86},{"s":"b11","x":1997.5,"y":286.98},{"s":"b11","x":1998,"y":287.12},{"s":"b11","x":1998.5,"y":287.19},{"s":"b11","x":1999,"y":287.10},{"s":"b11","x":1999.5,"y":286.97},{"s":"b11","x":2000,"y":286.84},{"s":"b11","x":2000.5,"y":286.88},{"s":"b11","x":2001,"y":286.94},{"s":"b11","x":2001.5,"y":287.03},{"s":"b11","x":2002,"y":287.09},{"s":"b11","x":2002.5,"y":287.10},{"s":"b11","x":2003,"y":287.11},{"s":"b11","x":2003.5,"y":287.13},
      {"s":"b12","x":1979.5,"y":286.63},{"s":"b12","x":1980,"y":286.73},{"s":"b12","x":1980.5,"y":286.72},{"s":"b12","x":1981,"y":286.68},{"s":"b12","x":1981.5,"y":286.68},{"s":"b12","x":1982,"y":286.66},{"s":"b12","x":1982.5,"y":286.68},{"s":"b12","x":1983,"y":286.74},{"s":"b12","x":1983.5,"y":286.76},{"s":"b12","x":1984,"y":286.69},{"s":"b12","x":1984.5,"y":286.62},{"s":"b12","x":1985,"y":286.56},{"s":"b12","x":1985.5,"y":286.55},{"s":"b12","x":1986,"y":286.58},{"s":"b12","x":1986.5,"y":286.62},{"s":"b12","x":1987,"y":286.72},{"s":"b12","x":1987.5,"y":286.81},{"s":"b12","x":1988,"y":286.85},{"s":"b12","x":1988.5,"y":286.78},{"s":"b12","x":1989,"y":286.70},{"s":"b12","x":1989.5,"y":286.64},{"s":"b12","x":1990,"y":286.69},{"s":"b12","x":1990.5,"y":286.77},{"s":"b12","x":1991,"y":286.81},{"s":"b12","x":1991.5,"y":286.79},{"s":"b12","x":1992,"y":286.74},{"s":"b12","x":1992.5,"y":286.69},{"s":"b12","x":1993,"y":286.66},{"s":"b12","x":1993.5,"y":286.67},
      {"s":"b12","x":1994,"y":286.72},{"s":"b12","x":1994.5,"y":286.74},{"s":"b12","x":1995,"y":286.81},{"s":"b12","x":1995.5,"y":286.87},{"s":"b12","x":1996,"y":286.90},{"s":"b12","x":1996.5,"y":286.82},{"s":"b12","x":1997,"y":286.84},{"s":"b12","x":1997.5,"y":286.96},{"s":"b12","x":1998,"y":287.10},{"s":"b12","x":1998.5,"y":287.17},{"s":"b12","x":1999,"y":287.08},{"s":"b12","x":1999.5,"y":286.95},{"s":"b12","x":2000,"y":286.82},{"s":"b12","x":2000.5,"y":286.86},{"s":"b12","x":2001,"y":286.92},{"s":"b12","x":2001.5,"y":287.01},{"s":"b12","x":2002,"y":287.07},{"s":"b12","x":2002.5,"y":287.09},{"s":"b12","x":2003,"y":287.10},{"s":"b12","x":2003.5,"y":287.12}
    ],
    "pink": [
      {"x":1978.45,"y":287.17},{"x":1978.85,"y":287.23},{"x":1979.4,"y":287.28},{"x":1980.1,"y":287.41},{"x":1980.8,"y":287.35},{"x":1981.5,"y":287.37},{"x":1982.1,"y":287.34},{"x":1982.65,"y":287.33},{"x":1983.2,"y":287.38},{"x":1983.8,"y":287.30},{"x":1984.35,"y":287.21},{"x":1984.9,"y":287.23},{"x":1985.5,"y":287.22},{"x":1986.2,"y":287.30},{"x":1986.8,"y":287.35},{"x":1987.35,"y":287.37},{"x":1988.15,"y":287.49},{"x":1988.5,"y":287.47},{"x":1989.3,"y":287.28},{"x":1989.85,"y":287.35},{"x":1990.4,"y":287.40},{"x":1991.0,"y":287.42},{"x":1991.7,"y":287.43},{"x":1992.2,"y":287.40},{"x":1992.7,"y":287.36},{"x":1993.25,"y":287.33},{"x":1993.8,"y":287.33},{"x":1994.3,"y":287.36},{"x":1995.0,"y":287.42},{"x":1995.6,"y":287.45},{"x":1996.3,"y":287.38},{"x":1997.0,"y":287.35},{"x":1997.6,"y":287.42},{"x":1998.2,"y":287.55},{"x":1998.6,"y":287.60},{"x":1999.2,"y":287.48},{"x":1999.8,"y":287.34},{"x":2000.3,"y":287.36}
    ],
    "orange": [
      {"x":1977.0,"y":287.36},{"x":1977.4,"y":287.42},{"x":1977.9,"y":287.40},{"x":1978.5,"y":287.31},{"x":1978.85,"y":287.33},{"x":1979.4,"y":287.42},{"x":1980.1,"y":287.62},{"x":1980.8,"y":287.60},{"x":1981.4,"y":287.635},{"x":1981.9,"y":287.63},{"x":1982.5,"y":287.41},{"x":1983.4,"y":287.60},{"x":1984.2,"y":287.49},{"x":1984.9,"y":287.40},{"x":1985.5,"y":287.38},{"x":1986.2,"y":287.47},{"x":1987.0,"y":287.51},{"x":1987.9,"y":287.685},{"x":1988.5,"y":287.65},{"x":1989.45,"y":287.53},{"x":1990.2,"y":287.66},{"x":1991.0,"y":287.72},{"x":1991.7,"y":287.685},{"x":1992.45,"y":287.51},{"x":1993.0,"y":287.42},{"x":1993.8,"y":287.49},{"x":1994.6,"y":287.56},{"x":1995.75,"y":287.72},{"x":1996.3,"y":287.685},{"x":1997.05,"y":287.585},{"x":1997.6,"y":287.685},{"x":1998.6,"y":287.96},{"x":1999.3,"y":287.78},{"x":2000.05,"y":287.66},{"x":2000.85,"y":287.67},{"x":2001.6,"y":287.76},{"x":2002.35,"y":287.87},{"x":2002.6,"y":287.90}
    ],
    "black": [
      {"x":1993.8,"y":287.26},{"x":1994.2,"y":287.30},{"x":1994.6,"y":287.35},{"x":1995.0,"y":287.37},{"x":1995.35,"y":287.40},{"x":1995.7,"y":287.39},{"x":1996.1,"y":287.42},{"x":1996.6,"y":287.38},{"x":1997.05,"y":287.36},{"x":1997.4,"y":287.47},{"x":1997.8,"y":287.61},{"x":1998.6,"y":287.74},{"x":1999.3,"y":287.61},{"x":1999.7,"y":287.45},{"x":2000.05,"y":287.33},{"x":2000.35,"y":287.36},{"x":2000.65,"y":287.40},{"x":2001.0,"y":287.46},{"x":2001.4,"y":287.54},{"x":2001.8,"y":287.60},{"x":2002.2,"y":287.685},{"x":2002.6,"y":287.66},{"x":2002.9,"y":287.69},{"x":2003.2,"y":287.64},{"x":2003.5,"y":287.61},{"x":2003.9,"y":287.65},{"x":2004.25,"y":287.635},{"x":2004.7,"y":287.62},{"x":2005.1,"y":287.61}
    ],
    "red": [
      {"x":1989.65,"y":287.37},{"x":1990.0,"y":287.48},{"x":1990.65,"y":287.56},{"x":1991.15,"y":287.53},{"x":1991.55,"y":287.55},{"x":1992.1,"y":287.49},{"x":1992.7,"y":287.35},{"x":1993.0,"y":287.28},{"x":1993.45,"y":287.30},{"x":1993.8,"y":287.37},{"x":1994.8,"y":287.49},{"x":1995.75,"y":287.58},{"x":1996.5,"y":287.49},{"x":1997.2,"y":287.44},{"x":1998.0,"y":287.61},{"x":1998.6,"y":287.74},{"x":1999.3,"y":287.635},{"x":2000.05,"y":287.47},{"x":2000.85,"y":287.51},{"x":2001.6,"y":287.61},{"x":2002.35,"y":287.72},{"x":2002.9,"y":287.69},{"x":2003.5,"y":287.65},{"x":2004.25,"y":287.69},{"x":2004.8,"y":287.62},{"x":2005.2,"y":287.61},{"x":2005.6,"y":287.685},{"x":2006.05,"y":287.80},{"x":2006.55,"y":287.78},{"x":2007.0,"y":287.76}
    ],
    "lab": [{"x":1979.64,"y":285.95,"t":"CAM atmosphere"}]
  },
  "encoding": {
    "x": {"field": "x", "type": "quantitative", "scale": {"domain": [1977, 2007], "nice": false, "zero": false},
      "axis": {"title": "Year", "values": [1980, 1985, 1990, 1995, 2000, 2005], "format": "d", "grid": false, "domain": false, "tickSize": -4, "tickColor": "#555", "labelPadding": 9, "labelFont": "DejaVu Sans", "labelFontWeight": "bold", "labelFontSize": 14, "labelColor": "#000", "titleFont": "DejaVu Sans", "titleFontWeight": "bold", "titleFontSize": 14, "titleColor": "#000", "titlePadding": 2}},
    "y": {"field": "y", "type": "quantitative", "scale": {"domain": [285.61, 288.69], "nice": false, "zero": false},
      "axis": {"title": "Temperature (K)", "values": [286, 286.5, 287, 287.5, 288, 288.5], "format": ".1f", "grid": false, "domain": false, "tickSize": -4, "tickColor": "#555", "labelPadding": 8, "labelFont": "DejaVu Sans", "labelFontWeight": "bold", "labelFontSize": 14, "labelColor": "#000", "titleFont": "DejaVu Sans", "titleFontWeight": "bold", "titleFontSize": 14, "titleColor": "#000", "titlePadding": 8}}
  },
  "layer": [
    {"data": {"name": "ensc"}, "mark": {"type": "area", "color": "#a9c0ce", "opacity": 0.7, "clip": true},
      "encoding": {"y": {"field": "hi2", "type": "quantitative"}, "y2": {"field": "lo2"}}},
    {"data": {"name": "ensc"}, "mark": {"type": "area", "color": "#6a8ea2", "clip": true},
      "encoding": {"y": {"field": "hi", "type": "quantitative"}, "y2": {"field": "lo"}}},
    {"data": {"name": "ens"}, "mark": {"type": "line", "color": "#a3bccb", "strokeWidth": 1, "opacity": 0.75, "clip": true},
      "encoding": {"detail": {"field": "s"}}},
    {"data": {"name": "blue"}, "mark": {"type": "line", "color": "#2e2eff", "strokeWidth": 4, "opacity": 0.82, "strokeJoin": "round", "strokeCap": "round", "clip": true},
      "encoding": {"detail": {"field": "s"}}},
    {"data": {"name": "pink"}, "mark": {"type": "line", "color": "#e48ef2", "strokeWidth": 3.5, "opacity": 0.9, "strokeJoin": "round", "clip": true}, "encoding": {}},
    {"data": {"name": "black"}, "mark": {"type": "line", "color": "#000000", "strokeWidth": 3.5, "strokeJoin": "round", "clip": true}, "encoding": {}},
    {"data": {"name": "orange"}, "mark": {"type": "line", "color": "#f0a521", "strokeWidth": 3.5, "opacity": 0.9, "interpolate": "monotone", "strokeJoin": "round", "clip": true}, "encoding": {}},
    {"data": {"name": "red"}, "mark": {"type": "line", "color": "#f0154a", "strokeWidth": 3.5, "strokeJoin": "round", "clip": true}, "encoding": {}},
    {"data": {"name": "lab"}, "mark": {"type": "text", "color": "#c00000", "font": "Liberation Sans", "fontWeight": "bold", "fontSize": 47.5, "align": "left", "baseline": "alphabetic"},
      "encoding": {"text": {"field": "t"}}}
  ]
}
